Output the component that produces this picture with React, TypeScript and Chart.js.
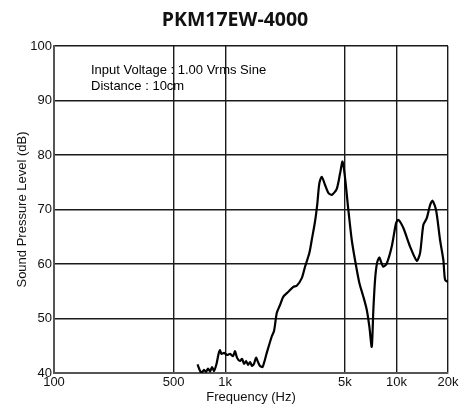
import React, { useEffect, useRef } from "react";
import { Chart, registerables } from "chart.js";

Chart.register(...registerables);

const titleText = "PKM17EW-4000";
const noteLines = ["Input Voltage : 1.00 Vrms Sine", "Distance : 10cm"];
const xAxisTitle = "Frequency (Hz)";
const yAxisTitle = "Sound Pressure Level (dB)";

const xTickValues = [100, 500, 1000, 5000, 10000, 20000];
const xTickLabels = ["100", "500", "1k", "5k", "10k", "20k"];

const frequencies = [
  689, 708, 727, 752, 772, 794, 815, 838, 860, 890, 914, 932, 951, 984, 1024,
  1067, 1111, 1141, 1172, 1221, 1254, 1288, 1323, 1359, 1396, 1434, 1473, 1513,
  1554, 1597, 1652, 1748, 1869, 1928, 2000, 2090, 2185, 2337, 2499, 2616, 2799,
  2925, 3099, 3201, 3345, 3451, 3545, 3662, 3828, 4013, 4206, 4481, 4684, 4844,
  5010, 5238, 5482, 5731, 6072, 6409, 6707, 6946, 7174, 7330, 7499, 7703, 7945,
  8128, 8385, 8776, 9387, 9947, 10260, 10973, 12006, 13141, 13736, 14361, 15031,
  15718, 16253, 17035, 17976, 18793, 19227, 20000,
];

const splValues = [
  41.6, 40.6, 40.0, 40.6, 40.2, 40.8, 40.3, 41.1, 40.4, 41.7, 43.5, 44.2, 43.5,
  43.7, 43.3, 43.5, 43.1, 44.0, 42.8, 42.2, 42.6, 41.7, 42.2, 41.5, 42.0, 41.3,
  41.7, 42.8, 42.0, 41.3, 41.1, 43.7, 46.7, 47.7, 51.0, 52.5, 54.0, 54.9, 55.8,
  56.0, 57.4, 59.5, 62.0, 64.4, 67.8, 71.1, 74.8, 76.0, 74.5, 73.0, 72.7, 73.8,
  76.6, 78.8, 75.8, 69.9, 64.4, 60.7, 56.5, 54.0, 51.6, 48.5, 44.8, 51.6, 57.1,
  60.2, 61.2, 60.4, 59.5, 60.1, 63.2, 67.5, 68.1, 66.6, 63.2, 60.6, 62.0, 67.2,
  68.4, 70.8, 71.6, 69.9, 64.4, 60.7, 57.1, 56.7,
];

const FONT = "'Liberation Sans', Arial, Helvetica, sans-serif";

const textPlugin = {
  id: "textPlugin",
  afterDraw(chart: any) {
    const { ctx, chartArea } = chart;
    ctx.save();
    // title
    ctx.fillStyle = "#111";
    ctx.font = `bold 19.5px 'Open Sans', 'Noto Sans', sans-serif`;
    ctx.textAlign = "center";
    ctx.textBaseline = "alphabetic";
    ctx.fillText(titleText, 235, 26);
    // notes
    ctx.fillStyle = "#000";
    ctx.font = `13px ${FONT}`;
    ctx.textAlign = "left";
    ctx.textBaseline = "middle";
    noteLines.forEach((line, i) => {
      ctx.fillText(line, chartArea.left + 37, chartArea.top + 24 + i * 16);
    });
    ctx.restore();
  },
};

export default function App() {
  const canvasRef = useRef<HTMLCanvasElement | null>(null);

  useEffect(() => {
    document.body.style.margin = "0";
    const canvas = canvasRef.current;
    if (!canvas) return;
    const points = frequencies.map((f, i) => ({ x: f, y: splValues[i] }));
    const chart = new Chart(canvas, {
      type: "scatter",
      data: {
        datasets: [
          {
            data: points,
            showLine: true,
            borderColor: "#000",
            borderWidth: 2.2,
            pointRadius: 0,
            tension: 0.25,
            fill: false,
          },
        ],
      },
      options: {
        animation: false,
        responsive: false,
        maintainAspectRatio: false,
        events: [],
        layout: { padding: { left: 0, right: 20, top: 46, bottom: 0 } },
        plugins: {
          legend: { display: false },
          tooltip: { enabled: false },
          title: { display: false },
        },
        scales: {
          x: {
            type: "logarithmic",
            min: 100,
            max: 20000,
            afterBuildTicks: (scale: any) => {
              scale.ticks = xTickValues.map((v) => ({ value: v }));
            },
            afterFit: (scale: any) => {
              scale.height = 41;
            },
            ticks: {
              autoSkip: false,
              maxRotation: 0,
              padding: 2,
              color: "#111",
              font: { family: FONT, size: 13 },
              callback: (value: any) => {
                const idx = xTickValues.indexOf(Number(value));
                return idx >= 0 ? xTickLabels[idx] : "";
              },
            },
            grid: { color: "#1a1a1a", lineWidth: 1.4, drawTicks: false },
            border: { color: "#555", width: 2 },
            title: {
              display: true,
              text: xAxisTitle,
              color: "#111",
              font: { family: FONT, size: 13 },
              padding: { top: 0, bottom: 9 },
            },
          },
          y: {
            type: "linear",
            min: 40,
            max: 100,
            afterFit: (scale: any) => {
              scale.width = 54;
            },
            ticks: {
              stepSize: 10,
              padding: 2,
              color: "#111",
              font: { family: FONT, size: 13 },
            },
            grid: { color: "#1a1a1a", lineWidth: 1.4, drawTicks: false },
            border: { color: "#555", width: 2 },
            title: {
              display: true,
              text: yAxisTitle,
              color: "#111",
              font: { family: FONT, size: 13 },
              padding: { top: 15, bottom: 0 },
            },
          },
        },
      },
      plugins: [textPlugin],
    });
    return () => chart.destroy();
  }, []);

  return (
    <div style={{ width: 468, height: 414 }}>
      <canvas ref={canvasRef} width={468} height={414} style={{ width: 468, height: 414 }} />
    </div>
  );
}
